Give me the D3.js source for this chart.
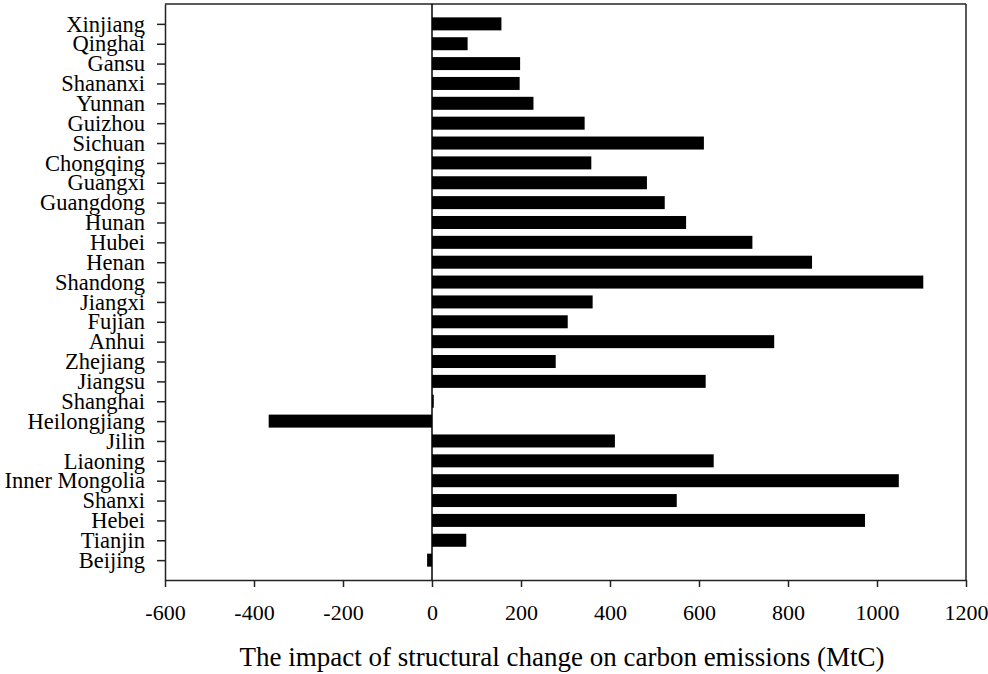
<!DOCTYPE html>
<html>
<head>
<meta charset="utf-8">
<script src="https://cdn.jsdelivr.net/npm/d3@7"></script>
<style>
  html, body { margin: 0; padding: 0; background: #fff; }
  svg { display: block; }
  text { font-family: "Liberation Serif", "Times New Roman", serif; fill: #000; }
</style>
</head>
<body>
<svg id="chart" width="988" height="674"></svg>
<script>
// Provinces from bottom (Beijing) to top (Xinjiang)
const provinces = ["Beijing","Tianjin","Hebei","Shanxi","Inner Mongolia","Liaoning","Jilin","Heilongjiang","Shanghai","Jiangsu","Zhejiang","Anhui","Fujian","Jiangxi","Shandong","Henan","Hubei","Hunan","Guangdong","Guangxi","Chongqing","Sichuan","Guizhou","Yunnan","Shananxi","Gansu","Qinghai","Xinjiang"];
const impactValues = [-11, 77, 973, 550, 1049, 633, 411, -367, 4, 615, 278, 769, 305, 361, 1104, 854, 720, 571, 523, 483, 358, 611, 343, 228, 197, 198, 80, 156];
const xTicks = [-600, -400, -200, 0, 200, 400, 600, 800, 1000, 1200];
const xLabel = "The impact of structural change on carbon emissions (MtC)";

(function () {
const svg = d3.select("#chart");
const mLeft = 165, mRight = 966, mTop = 4, mBottom = 580;

const x = d3.scaleLinear().domain([-600, 1200]).range([mLeft, mRight]);
const y = d3.scalePoint().domain(provinces).range([mBottom, mTop]).padding(1);
const barH = 13;

// bars
svg.append("g").selectAll("rect")
  .data(provinces.map((p, i) => ({p, v: impactValues[i]})))
  .join("rect")
  .attr("x", d => x(Math.min(0, d.v)))
  .attr("width", d => Math.abs(x(d.v) - x(0)))
  .attr("y", d => y(d.p) - barH / 2)
  .attr("height", barH)
  .attr("fill", "#000");

// frame (top & right)
svg.append("line").attr("x1", mLeft).attr("x2", mRight).attr("y1", mTop).attr("y2", mTop)
  .attr("stroke", "#222").attr("stroke-width", 1.5);
svg.append("line").attr("x1", mRight).attr("x2", mRight).attr("y1", mTop).attr("y2", mBottom)
  .attr("stroke", "#222").attr("stroke-width", 1.5);

// zero line
svg.append("line").attr("x1", x(0)).attr("x2", x(0)).attr("y1", mTop).attr("y2", mBottom)
  .attr("stroke", "#000").attr("stroke-width", 1.5);

// x axis
const gx = svg.append("g").attr("transform", `translate(0,${mBottom})`)
  .call(d3.axisBottom(x).tickValues(xTicks).tickFormat(d => String(d)).tickSize(7).tickSizeOuter(0));
gx.select(".domain").attr("stroke", "#222").attr("stroke-width", 1.5);
gx.selectAll(".tick line").attr("stroke", "#222").attr("stroke-width", 1.5);
gx.selectAll(".tick text").attr("y", 40).attr("dy", 0)
  .style("font-family", "'Liberation Serif', serif").style("font-size", "22px").attr("fill", "#000");

// y axis
const gy = svg.append("g").attr("transform", `translate(${mLeft},0)`)
  .call(d3.axisLeft(y).tickSize(8).tickPadding(12).tickSizeOuter(0));
gy.select(".domain").attr("stroke", "#222").attr("stroke-width", 1.5);
gy.selectAll(".tick line").attr("stroke", "#222").attr("stroke-width", 1.5);
gy.selectAll(".tick text")
  .style("font-family", "'Liberation Serif', serif").style("font-size", "22.5px").attr("fill", "#000");

// x axis label
svg.append("text")
  .attr("x", 562)
  .attr("y", 666)
  .attr("text-anchor", "middle")
  .style("font-size", "27px")
  .text(xLabel);
})();
</script>
</body>
</html>
